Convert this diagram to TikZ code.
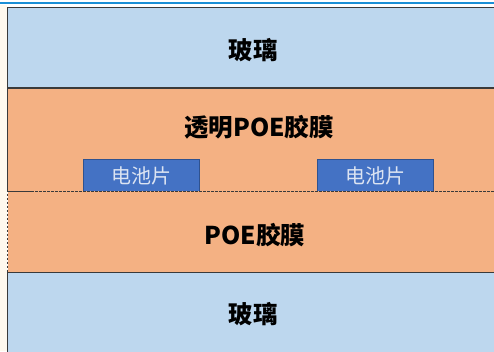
\documentclass[tikz,border=0pt]{standalone}
\usepackage{fontspec}
\setmainfont{Noto Sans CJK SC}
\definecolor{glass}{HTML}{BDD7EE}
\definecolor{film}{HTML}{F4B183}
\definecolor{cell}{HTML}{4472C4}
\definecolor{cellline}{HTML}{2F528F}
\definecolor{celltext}{HTML}{DCE4F2}
\definecolor{cream}{HTML}{FFF9EE}
\definecolor{topline}{HTML}{1A8FD6}
\definecolor{edge}{HTML}{3A3A3A}
\tikzset{
  layer/.style={anchor=north west, inner sep=0pt, outer sep=0pt},
  label/.style={font=\bfseries\fontsize{24.5}{26}\selectfont, text=black, inner sep=0pt},
  celltxt/.style={font=\fontsize{20}{22}\selectfont, text=celltext, inner sep=0pt},
  cellbox/.style={anchor=north west, fill=cell, draw=cellline, line width=0.6pt, minimum width=116pt, minimum height=32pt, inner sep=0pt}
}
\begin{document}
\begin{tikzpicture}[x=1pt,y=-1pt]
\useasboundingbox (0,0) rectangle (494,351);
\fill[white] (0,0) rectangle (494,351);
\fill[cream] (0,5) rectangle (7,351);
\draw[topline, line width=1.5pt] (0,3) -- (494,3);
% layers
\node[layer, fill=film, draw=edge, line width=0.8pt, minimum width=500pt, minimum height=103pt] (film1) at (7.5,88) {};
\node[layer, fill=glass, draw=edge, line width=1.6pt, minimum width=500pt, minimum height=80.5pt] (glass1) at (7.5,7.5) {};
\node[cellbox] (cell1) at (83,159) {};
\node[cellbox] (cell2) at (317,159) {};
\node[layer, fill=film, draw=edge, line width=0.8pt, dashed, dash pattern=on 2.5pt off 1.5pt, minimum width=500pt, minimum height=81.5pt] (film2) at (7.5,191) {};
\node[layer, fill=glass, draw=edge, line width=0.6pt, minimum width=500pt, minimum height=90pt] (glass2) at (7.5,272.5) {};
\draw[edge, line width=0.8pt, dash pattern=on 2.5pt off 1.5pt] (film2.north west) -- (film2.north east);
% labels
\node[label] (t1) at (253,50) {玻璃};
\node[label] (t2) at (259,127) {透明POE胶膜};
\node[label] (t3) at (255,235) {POE胶膜};
\node[label] (t4) at (253,314) {玻璃};
\node[celltxt] (c1) at (141,175.5) {电池片};
\node[celltxt] (c2) at (375,175.5) {电池片};
\end{tikzpicture}
\end{document}
